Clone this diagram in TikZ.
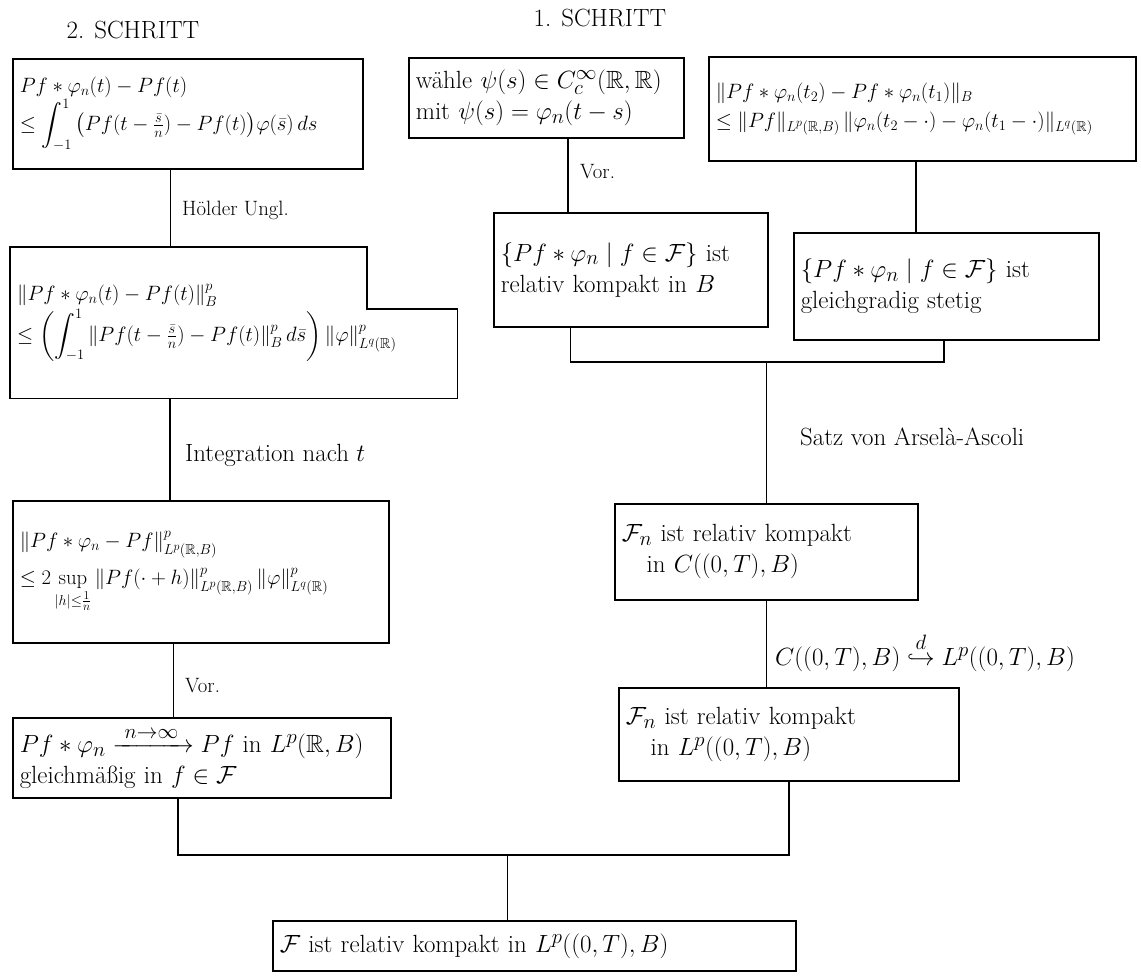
\documentclass[tikz,border=0pt]{standalone}
\usepackage{amsmath,amssymb}
\usetikzlibrary{calc}
\tikzset{
  box/.style={draw, line width=1.6pt, anchor=north west, inner xsep=7pt, inner ysep=3pt, align=left, font=\fontsize{20.74}{27}\selectfont},
  bigbox/.style={box, font=\fontsize{24.88}{31}\selectfont},
  txt/.style={anchor=north west, inner xsep=7pt, inner ysep=3pt, align=left, font=\fontsize{20.74}{27}\selectfont},
  conn/.style={line width=1.6pt},
  lbl/.style={anchor=west, inner sep=0pt, font=\fontsize{20.74}{26}\selectfont},
  biglbl/.style={lbl, font=\fontsize{24.88}{30}\selectfont},
  hdr/.style={inner sep=0pt, font=\fontsize{24.88}{30}\selectfont}
}
\begin{document}
\begin{tikzpicture}[x=1pt,y=-1pt]
\useasboundingbox[fill=white] (0,0) rectangle (1141,978);

% headers
\node[hdr] (hd2) at (133,30) {2. SCHRITT};
\node[hdr] (hd1) at (600,18) {1. SCHRITT};

% left column
\node[box, minimum width=350pt, minimum height=110pt, text width=336pt] (A) at (12,58)
  {$Pf * \varphi_n(t) - Pf(t)$\\[0pt]
   $\le \displaystyle\int_{-1}^{1} \big(Pf(t-\tfrac{\bar s}{n}) - Pf(t)\big)\varphi(\bar s)\,ds$};

\node[txt, minimum width=447pt, minimum height=151pt, text width=433pt] (D) at (10,247)
  {$\|Pf * \varphi_n(t) - Pf(t)\|_B^p$\\[2pt]
   $\le \left(\displaystyle\int_{-1}^{1} \|Pf(t-\tfrac{\bar s}{n}) - Pf(t)\|_B^p\, d\bar s\right) \|\varphi\|^p_{L^q(\mathbb{R})}$};
\draw[conn] (D.south west) -- (D.north west) -- ++(357,0) -- ++(0,62) -| (D.south east) -- cycle;

\node[box, minimum width=376pt, minimum height=142pt, text width=362pt] (E) at (12,500)
  {$\|Pf * \varphi_n - Pf\|^p_{L^p(\mathbb{R},B)}$\\[10pt]
   $\le 2 \sup\limits_{|h|\le \frac{1}{n}} \|Pf(\cdot + h)\|^p_{L^p(\mathbb{R},B)}\, \|\varphi\|^p_{L^q(\mathbb{R})}$};

\node[bigbox, minimum width=378pt, minimum height=80pt, text width=364pt] (F) at (12,717)
  {$Pf * \varphi_n \xrightarrow{\;n\to\infty\;} Pf$ in $L^p(\mathbb{R},B)$\\
   gleichmäßig in $f \in \mathcal{F}$};

% right column
\node[bigbox, minimum width=275pt, minimum height=80pt, text width=261pt] (B) at (408,57)
  {wähle $\psi(s) \in C_c^\infty(\mathbb{R},\mathbb{R})$\\
   mit $\psi(s) = \varphi_n(t-s)$};

\node[box, minimum width=427pt, minimum height=104pt, text width=413pt] (C) at (708,56)
  {$\|Pf * \varphi_n(t_2) - Pf * \varphi_n(t_1)\|_B$\\[2pt]
   $\le \|Pf\|_{L^p(\mathbb{R},B)}\, \|\varphi_n(t_2-\cdot) - \varphi_n(t_1-\cdot)\|_{L^q(\mathbb{R})}$};

\node[bigbox, minimum width=274pt, minimum height=114pt, text width=260pt] (G) at (493,212)
  {$\{Pf * \varphi_n \mid f \in \mathcal{F}\}$ ist\\
   relativ kompakt in $B$};

\node[bigbox, minimum width=305pt, minimum height=107pt, text width=291pt] (H) at (793,232)
  {$\{Pf * \varphi_n \mid f \in \mathcal{F}\}$ ist\\
   gleichgradig stetig};

\node[bigbox, minimum width=303pt, minimum height=96pt, text width=289pt] (I) at (614,503)
  {$\mathcal{F}_n$ ist relativ kompakt\\
   \quad in $C((0,T),B)$};

\node[bigbox, minimum width=340pt, minimum height=93pt, text width=326pt] (J) at (618,687)
  {$\mathcal{F}_n$ ist relativ kompakt\\
   \quad in $L^p((0,T),B)$};

\node[bigbox, minimum width=523pt, minimum height=50pt, text width=509pt] (K) at (272,920)
  {$\mathcal{F}$ ist relativ kompakt in $L^p((0,T),B)$};

% connector points
\coordinate (a1) at ($(A.south west)!0.451!(A.south east)$);
\coordinate (d1) at ($(D.south west)!0.358!(D.south east)$);
\coordinate (e1) at ($(E.south west)!0.428!(E.south east)$);
\coordinate (f1) at ($(F.south west)!0.437!(F.south east)$);
\coordinate (b1) at ($(B.south west)!0.578!(B.south east)$);
\coordinate (g1) at ($(G.south west)!0.281!(G.south east)$);
\coordinate (c1) at ($(C.south west)!0.485!(C.south east)$);
\coordinate (h1) at ($(H.south west)!0.492!(H.south east)$);
\coordinate (k1) at ($(K.north west)!0.449!(K.north east)$);
\coordinate (bus1) at (I.north |- 0,362);
\coordinate (bus2) at (k1 |- 0,855);

% connectors
\draw[conn] (a1) -- (a1 |- D.north);
\draw[conn] (d1) -- (d1 |- E.north);
\draw[conn] (e1) -- (e1 |- F.north);
\draw[conn] (b1) -- (b1 |- G.north);
\draw[conn] (c1) -- (c1 |- H.north);
\draw[conn] (g1) |- (bus1) -| (h1);
\draw[conn] (bus1) -- (I.north);
\draw[conn] (I.south) -- (I.south |- J.north);
\draw[conn] (f1) |- (bus2) -| (J.south);
\draw[conn] (bus2) -- (k1);

% labels
\node[lbl] (l1) at (182,210) {Hölder Ungl.};
\node[biglbl] (l2) at (185,455) {Integration nach $t$};
\node[lbl] (l3) at (185,686) {Vor.};
\node[lbl] (l4) at (580,172) {Vor.};
\node[biglbl] (l5) at (800,437) {Satz von Arselà-Ascoli};
\node[biglbl] (l6) at (775,652) {$C((0,T),B) \overset{d}{\hookrightarrow} L^p((0,T),B)$};
\end{tikzpicture}
\end{document}
